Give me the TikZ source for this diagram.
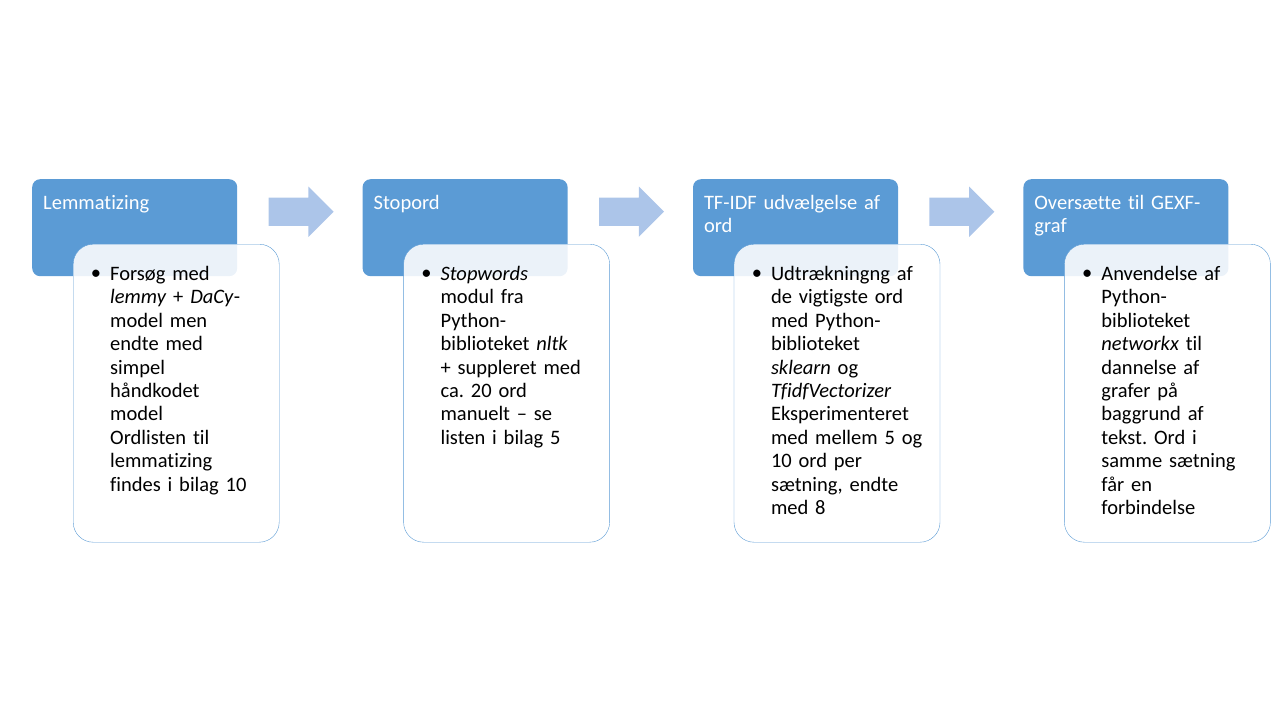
\documentclass[tikz,border=0pt]{standalone}
\usepackage{fontspec}
\setmainfont{Carlito}[Ligatures={NoCommon}]
\usetikzlibrary{shapes.arrows,positioning,calc}

\definecolor{headblue}{RGB}{91,155,213}
\definecolor{arrowblue}{RGB}{172,197,233}

\newcommand{\bulmark}{\llap{\raisebox{1pt}{\textbullet}\hspace{9pt}}}

\begin{document}
\frenchspacing
\begin{tikzpicture}[
        x=1pt, y=-1pt,
        node distance=125pt,
        head/.style={fill=headblue, rounded corners=8pt, minimum width=205pt, minimum height=97pt, inner sep=0pt, anchor=north west},
        headtext/.style={text=white, text width=195pt, align=left, inner sep=0pt, anchor=north west, font=\fontsize{20.5}{23.4}\selectfont},
        body/.style={draw=headblue, fill=white, fill opacity=0.88, rounded corners=20pt, minimum width=206pt, minimum height=298pt, inner sep=0pt, anchor=north west},
        bodytext/.style={text width=165pt, align=left, inner sep=0pt, anchor=north west, font=\fontsize{20.5}{23.4}\selectfont},
        flow/.style={single arrow, fill=arrowblue, draw=none, minimum height=65pt, inner xsep=0pt, inner ysep=14pt, single arrow head extend=11pt, single arrow tip angle=90, single arrow head indent=0pt, anchor=tail}
    ]
        \useasboundingbox (0,0) rectangle (1280,720);

        % Step headers
        \node[head] (h1) at (32,179) {};
        \node[head, right=of h1.east, anchor=west] (h2) {};
        \node[head, right=of h2.east, anchor=west] (h3) {};
        \node[head, right=of h3.east, anchor=west] (h4) {};

        % Header texts
        \node[headtext] (ht1) at ($(h1.north west)+(11,14)$) {\strut Lemmatizing};
        \node[headtext] (ht2) at ($(h2.north west)+(11,14)$) {\strut Stopord};
        \node[headtext] (ht3) at ($(h3.north west)+(11,14)$) {\strut TF-IDF udvælgelse af\\ord};
        \node[headtext] (ht4) at ($(h4.north west)+(11,14)$) {\strut Oversætte til GEXF-\\graf};

        % Detail boxes
        \node[body] (b1) at ($(h1.north west)+(41,65)$) {};
        \node[body] (b2) at ($(h2.north west)+(41,65)$) {};
        \node[body] (b3) at ($(h3.north west)+(41,65)$) {};
        \node[body] (b4) at ($(h4.north west)+(41,65)$) {};

        % Detail texts
        \node[bodytext] (t1) at ($(b1.north west)+(37,20)$) {\strut\bulmark Forsøg med\\\textit{lemmy} + \textit{DaCy}-\\model men\\endte med\\simpel\\håndkodet\\model\\Ordlisten til\\lemmatizing\\findes i bilag 10};
        \node[bodytext] (t2) at ($(b2.north west)+(37,20)$) {\strut\bulmark \textit{Stopwords}\\modul fra\\Python-\\biblioteket \textit{nltk}\\+ suppleret med\\ca. 20 ord\\manuelt – se\\listen i bilag 5};
        \node[bodytext] (t3) at ($(b3.north west)+(37,20)$) {\strut\bulmark Udtrækningng af\\de vigtigste ord\\med Python-\\biblioteket\\\textit{sklearn} og\\\textit{TfidfVectorizer}\\Eksperimenteret\\med mellem 5 og\\10 ord per\\sætning, endte\\med 8};
        \node[bodytext] (t4) at ($(b4.north west)+(37,20)$) {\strut\bulmark Anvendelse af\\Python-\\biblioteket\\\textit{networkx} til\\dannelse af\\grafer på\\baggrund af\\tekst. Ord i\\samme sætning\\får en\\forbindelse};

        % Arrows between steps
        \node[flow] (a1) at ($(h1.east)+(31,-16)$) {};
        \node[flow] (a2) at ($(h2.east)+(31,-16)$) {};
        \node[flow] (a3) at ($(h3.east)+(31,-16)$) {};
    \end{tikzpicture}
\end{document}
